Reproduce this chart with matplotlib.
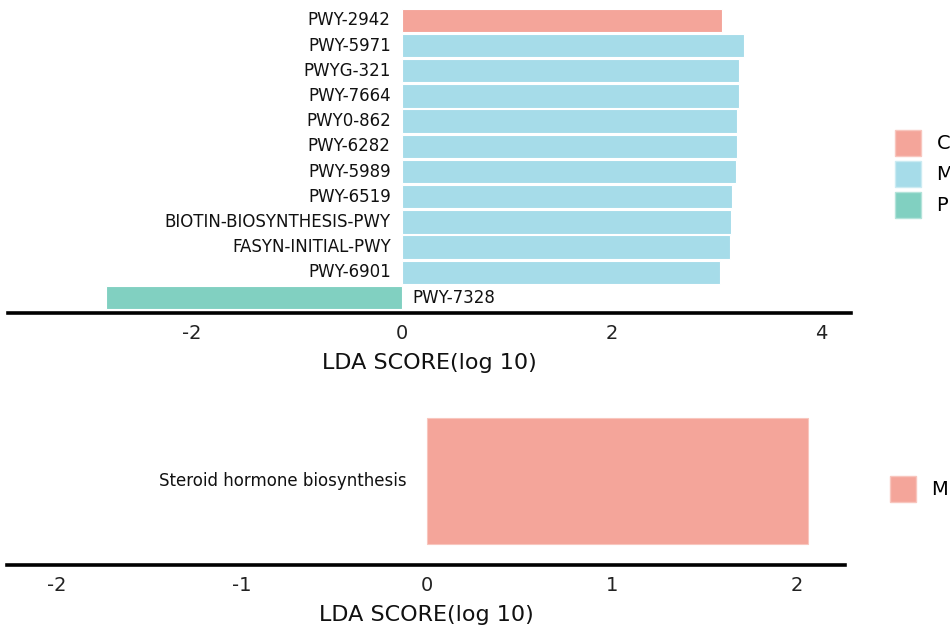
import matplotlib.pyplot as plt
from matplotlib.patches import Patch

# top panel (MetaCyc pathways), listed from top to bottom
pathways = ['PWY-2942', 'PWY-5971', 'PWYG-321', 'PWY-7664', 'PWY0-862',
            'PWY-6282', 'PWY-5989', 'PWY-6519', 'BIOTIN-BIOSYNTHESIS-PWY',
            'FASYN-INITIAL-PWY', 'PWY-6901', 'PWY-7328']
lda_scores = [3.05, 3.26, 3.21, 3.21, 3.19, 3.19, 3.18, 3.15, 3.14, 3.13, 3.03, -2.82]
groups = ['C', 'M', 'M', 'M', 'M', 'M', 'M', 'M', 'M', 'M', 'M', 'P']
top_ticks = [-2, 0, 2, 4]

# bottom panel (KEGG)
kegg_names = ['Steroid hormone biosynthesis']
kegg_scores = [2.06]
kegg_groups = ['M']
bottom_ticks = [-2, -1, 0, 1, 2]

colors = {'C': '#F4A59A', 'M': '#A6DCE9', 'P': '#81D0C1'}
edges = {'C': '#F8C6BE', 'M': '#CBEBF2', 'P': '#B3E3DA'}

W, H = 950, 629
fig = plt.figure(figsize=(W / 100, H / 100), dpi=100)


def px_axes(left, right, top, bottom):
    return fig.add_axes([left / W, 1 - bottom / H, (right - left) / W, (bottom - top) / H])


def style_axis(ax, ticks):
    for s in ['top', 'right', 'left']:
        ax.spines[s].set_visible(False)
    ax.spines['bottom'].set_linewidth(2.6)
    ax.spines['bottom'].set_color('black')
    ax.set_yticks([])
    ax.set_xticks(ticks)
    ax.set_xticklabels([str(t) for t in ticks])
    ax.tick_params(axis='x', length=0, pad=8, labelsize=14, labelcolor='#222222')
    ax.set_xlabel('LDA SCORE(log 10)', fontsize=16, labelpad=7, color='#111111')


# ---------- top panel ----------
ax1 = px_axes(8, 851, 8, 313)
n = len(pathways)
ypos = list(range(n - 1, -1, -1))
for y, name, v, g in zip(ypos, pathways, lda_scores, groups):
    ax1.barh(y, v, height=0.93, color=colors[g], edgecolor='white', linewidth=0.8)
    if v >= 0:
        ax1.text(-0.105, y, name, ha='right', va='center', fontsize=12, color='#111111')
    else:
        ax1.text(0.105, y, name, ha='left', va='center', fontsize=12, color='#111111')
ax1.set_xlim(-3.75, 4.28)
ax1.set_ylim(-0.615, n - 0.51)
style_axis(ax1, top_ticks)

# legend squares are ~26 px; legend labels run off the right edge like the original
handles = [Patch(facecolor=colors[k], edgecolor=edges[k], linewidth=1) for k in ['C', 'M', 'P']]
fig.legend(handles, ['C', 'M', 'P'], loc='upper left', bbox_to_anchor=(895 / W, 1 - 130 / H),
           frameon=False, borderpad=0, borderaxespad=0, fontsize=14,
           handlelength=1.34, handleheight=1.68, labelspacing=0.26, handletextpad=0.8)

# ---------- bottom panel ----------
ax2 = px_axes(7, 845, 397, 565)
for name, v, g in zip(kegg_names, kegg_scores, kegg_groups):
    ax2.barh(0, v, height=0.9, color=colors['C'], edgecolor=edges['C'], linewidth=0.8)
    ax2.text(-0.108, 0, name, ha='right', va='center', fontsize=12, color='#111111')
ax2.set_xlim(-2.27, 2.26)
ax2.set_ylim(-0.6, 0.6)
style_axis(ax2, bottom_ticks)

fig.legend([Patch(facecolor=colors['C'], edgecolor=edges['C'], linewidth=1)], kegg_groups,
           loc='upper left', bbox_to_anchor=(890 / W, 1 - 476 / H),
           frameon=False, borderpad=0, borderaxespad=0, fontsize=14,
           handlelength=1.34, handleheight=1.68, handletextpad=0.8)

fig.savefig('out.png', dpi=100)
